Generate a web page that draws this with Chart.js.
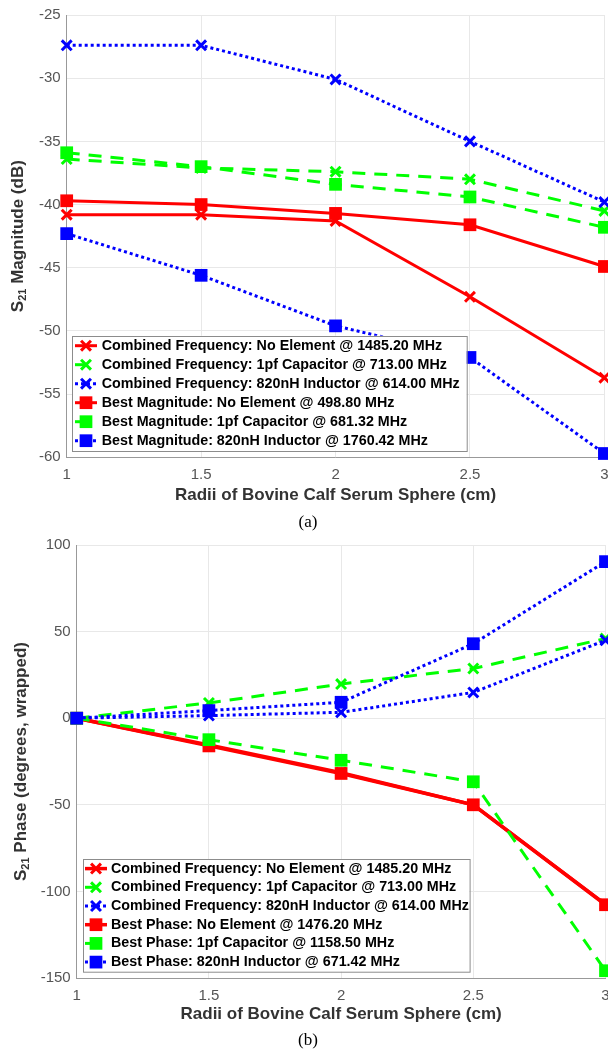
<!DOCTYPE html>
<html>
<head>
<meta charset="utf-8">
<script src="https://cdn.jsdelivr.net/npm/chart.js@4.4.0/dist/chart.umd.min.js"></script>
<style>
body{margin:0;background:#fff;overflow:hidden;width:608px;height:1051px;position:relative}
.box{position:absolute;left:0;width:640px}
#boxA{top:0;height:530px}
#boxB{top:530px;height:521px}
.cap{position:absolute;left:0;width:616px;text-align:center;font-family:"Liberation Serif","Times New Roman",serif;font-size:17px;color:#000;line-height:20px}
</style>
</head>
<body>
<div class="box" id="boxA"><canvas id="magChart"></canvas></div>
<div class="box" id="boxB"><canvas id="phaseChart"></canvas></div>
<div class="cap" style="top:512px">(a)</div>
<div class="cap" style="top:1030px">(b)</div>
<script>
// radii of the serum sphere (cm)
var radii = [1, 1.5, 2, 2.5, 3];

// S21 magnitude (dB)
var magCombNone = [-40.8, -40.8, -41.3, -47.3, -53.7];
var magComb1pf  = [-36.4, -37.1, -37.4, -38.0, -40.5];
var magComb820  = [-27.4, -27.4, -30.1, -35.0, -39.8];
var magBestNone = [-39.7, -40.0, -40.7, -41.6, -44.9];
var magBest1pf  = [-35.9, -37.0, -38.4, -39.4, -41.8];
var magBest820  = [-42.3, -45.6, -49.6, -52.1, -59.7];
var magLabels = [
  "Combined Frequency: No Element @ 1485.20 MHz",
  "Combined Frequency: 1pf Capacitor @ 713.00 MHz",
  "Combined Frequency: 820nH Inductor @ 614.00 MHz",
  "Best Magnitude: No Element @ 498.80 MHz",
  "Best Magnitude: 1pf Capacitor @ 681.32 MHz",
  "Best Magnitude: 820nH Inductor @ 1760.42 MHz"
];

// S21 phase (degrees, wrapped)
var phCombNone = [0, -15.5, -31.5, -50.0, -107.5];
var phComb1pf  = [0, 8.8, 19.7, 28.7, 46.0];
var phComb820  = [0, 1.5, 3.4, 14.9, 45.0];
var phBestNone = [0, -16.0, -31.9, -50.0, -107.7];
var phBest1pf  = [0, -12.4, -24.3, -36.7, -145.8];
var phBest820  = [0, 4.4, 9.2, 43.0, 90.4];
var phLabels = [
  "Combined Frequency: No Element @ 1485.20 MHz",
  "Combined Frequency: 1pf Capacitor @ 713.00 MHz",
  "Combined Frequency: 820nH Inductor @ 614.00 MHz",
  "Best Phase: No Element @ 1476.20 MHz",
  "Best Phase: 1pf Capacitor @ 1158.50 MHz",
  "Best Phase: 820nH Inductor @ 671.42 MHz"
];

var colors = ["#ff0000", "#00ff00", "#0000ff"];
var dashes = [[], [13, 9], [3, 3]];

function series(label, vals, k, square, idx, width){
  var pts = [];
  for (var i in radii){
    pts.push({x: radii[i], y: vals[i]});
  }
  return {
    label: label,
    data: pts,
    borderColor: colors[k],
    backgroundColor: colors[k],
    pointBackgroundColor: colors[k],
    pointBorderColor: colors[k],
    borderWidth: width || 3,
    borderDash: dashes[k],
    pointStyle: square ? "rect" : "crossRot",
    pointRadius: square ? 9 : 7,
    pointBorderWidth: square ? 0 : 3,
    tension: 0,
    fill: false,
    clip: false,
    order: 6 - idx
  };
}

// matlab style legend drawn inside the axes
var boxLegend = {
  id: "boxLegend",
  afterDatasetsDraw: function(chart, args, o){
    var ctx = chart.ctx, a = chart.chartArea;
    var sets = chart.data.datasets;
    var h = o.rowH * sets.length + o.padY * 2;
    var x0 = a.left + o.dx, y0 = a.bottom - o.dy - h;
    ctx.save();
    ctx.fillStyle = "#fff";
    ctx.fillRect(x0, y0, o.width, h);
    ctx.strokeStyle = "#8c8c8c";
    ctx.lineWidth = 1;
    ctx.strokeRect(Math.round(x0) + 0.5, Math.round(y0) + 0.5, o.width, h);
    ctx.font = "bold " + o.size + "px 'Liberation Sans', Arial, sans-serif";
    ctx.textBaseline = "middle";
    for (var i = 0; i < sets.length; i++){
      var ds = sets[i];
      var cy = y0 + o.padY + o.rowH * (i + 0.5);
      var lx = x0 + o.lineX;
      ctx.save();
      ctx.strokeStyle = ds.borderColor;
      ctx.lineWidth = ds.borderWidth;
      ctx.setLineDash(ds.borderDash);
      ctx.beginPath();
      ctx.moveTo(lx, cy);
      ctx.lineTo(lx + o.lineW, cy);
      ctx.stroke();
      ctx.setLineDash([]);
      ctx.fillStyle = ds.pointBackgroundColor;
      ctx.strokeStyle = ds.pointBorderColor;
      ctx.lineWidth = ds.pointBorderWidth;
      Chart.helpers.drawPoint(ctx, {pointStyle: ds.pointStyle, radius: ds.pointRadius, borderWidth: ds.pointBorderWidth, rotation: 0}, lx + o.lineW / 2, cy);
      ctx.restore();
      ctx.fillStyle = "#000";
      ctx.fillText(ds.label, x0 + o.textX, cy);
    }
    ctx.restore();
  }
};

// y title with subscript S21
var subTitle = {
  id: "subTitle",
  afterDraw: function(chart, args, o){
    var ctx = chart.ctx, a = chart.chartArea;
    var big = "bold 17px 'Liberation Sans', Arial, sans-serif";
    var small = "bold 11px 'Liberation Sans', Arial, sans-serif";
    ctx.save();
    ctx.font = big;
    var w1 = ctx.measureText("S").width;
    var w3 = ctx.measureText(o.rest).width;
    ctx.font = small;
    var w2 = ctx.measureText("21").width;
    var total = w1 + w2 + w3;
    ctx.translate(o.x, (a.top + a.bottom) / 2);
    ctx.rotate(-Math.PI / 2);
    ctx.fillStyle = "#333";
    ctx.textBaseline = "middle";
    var s = -total / 2;
    ctx.font = big;
    ctx.fillText("S", s, 0);
    ctx.font = small;
    ctx.fillText("21", s + w1, 5);
    ctx.font = big;
    ctx.fillText(o.rest, s + w1 + w2, 0);
    ctx.restore();
  }
};

function makeOptions(yMin, yMax, yStep, yWidth, xHeight, padRight, titlePadBottom, legendOpts, yTitle){
  return {
    responsive: true,
    maintainAspectRatio: false,
    animation: false,
    layout: {padding: {top: 13.3, right: padRight, left: 0, bottom: 0}},
    plugins: {
      legend: {display: false},
      tooltip: {enabled: false},
      boxLegend: legendOpts,
      subTitle: yTitle
    },
    scales: {
      x: {
        type: "linear",
        min: 1, max: 3,
        ticks: {stepSize: 0.5, color: "#555", padding: 9, font: {family: "'Liberation Sans', Arial", size: 15},
                callback: function(v){ return String(v); }},
        grid: {color: "#e8e8e8", drawTicks: false},
        border: {color: "#999"},
        title: {display: true, text: "Radii of Bovine Calf Serum Sphere (cm)", color: "#333",
                font: {family: "'Liberation Sans', Arial", size: 17, weight: "bold"},
                padding: {top: 0, bottom: titlePadBottom}},
        afterFit: function(scale){ scale.height = xHeight; }
      },
      y: {
        min: yMin, max: yMax,
        ticks: {stepSize: yStep, color: "#555", padding: 6, font: {family: "'Liberation Sans', Arial", size: 15}},
        grid: {color: "#e8e8e8", drawTicks: false},
        border: {color: "#999"},
        afterFit: function(scale){ scale.width = yWidth; }
      }
    }
  };
}

var magSets = [
  series(magLabels[0], magCombNone, 0, false, 0),
  series(magLabels[1], magComb1pf, 1, false, 1),
  series(magLabels[2], magComb820, 2, false, 2),
  series(magLabels[3], magBestNone, 0, true, 3),
  series(magLabels[4], magBest1pf, 1, true, 4),
  series(magLabels[5], magBest820, 2, true, 5)
];

var phSets = [
  series(phLabels[0], phCombNone, 0, false, 0, 3.5),
  series(phLabels[1], phComb1pf, 1, false, 1),
  series(phLabels[2], phComb820, 2, false, 2),
  series(phLabels[3], phBestNone, 0, true, 3, 3.5),
  series(phLabels[4], phBest1pf, 1, true, 4),
  series(phLabels[5], phBest820, 2, true, 5)
];

new Chart(document.getElementById("magChart"), {
  type: "line",
  data: {datasets: magSets},
  options: makeOptions(-60, -25, 5, 66.7, 72.7, 35.6, 24,
    {dx: 5.3, dy: 6.6, width: 394.7, rowH: 19, padY: 0.5, lineX: 3, lineW: 22, textX: 29.7, size: 14.3},
    {x: 18, rest: " Magnitude (dB)"}),
  plugins: [boxLegend, subTitle]
});

new Chart(document.getElementById("phaseChart"), {
  type: "line",
  data: {datasets: phSets},
  options: makeOptions(-150, 100, 50, 76.7, 73, 34.5, 26,
    {dx: 6, dy: 6.3, width: 386.6, rowH: 18.7, padY: 0.25, lineX: 2.3, lineW: 22, textX: 28.3, size: 14.3},
    {x: 21, rest: " Phase (degrees, wrapped)"}),
  plugins: [boxLegend, subTitle]
});
</script>
</body>
</html>
